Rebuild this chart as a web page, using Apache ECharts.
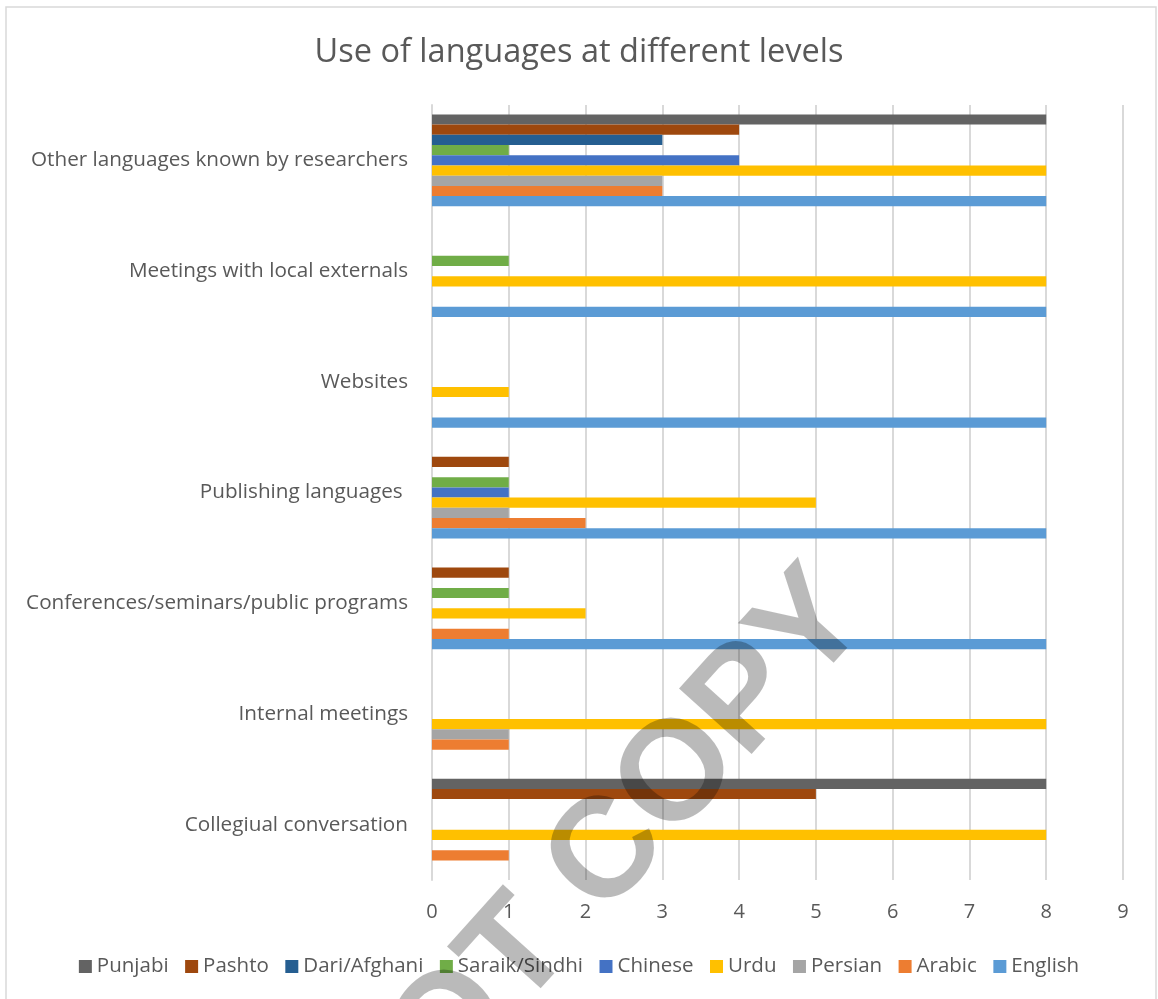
<!DOCTYPE html>
<html>
<head>
<meta charset="utf-8">
<script src="https://cdn.jsdelivr.net/npm/echarts@6/dist/echarts.min.js"></script>
<style>
html,body{margin:0;padding:0;background:#fff;}
#chart{width:1158px;height:999px;}
</style>
</head>
<body>
<div id="chart"></div>
<script>
// Categories listed bottom-to-top (ECharts category y-axis starts at the bottom)
const categories = [
  'Collegiual conversation',
  'Internal meetings',
  'Conferences/seminars/public programs',
  'Publishing languages ',
  'Websites',
  'Meetings with local externals',
  'Other languages known by researchers'
];
const languages = ['Punjabi','Pashto','Dari/Afghani','Saraik/Sindhi','Chinese','Urdu','Persian','Arabic','English'];
const colors = ['#636363','#9e480e','#255e91','#70ad47','#4472c4','#ffc000','#a5a5a5','#ed7d31','#5b9bd5'];

const punjabi = [8,0,0,0,0,0,8];
const pashto  = [5,0,1,1,0,0,4];
const dari    = [0,0,0,0,0,0,3];
const saraik  = [0,0,1,1,0,1,1];
const chinese = [0,0,0,1,0,0,4];
const urdu    = [8,8,2,5,1,8,8];
const persian = [0,1,0,1,0,0,3];
const arabic  = [1,1,1,2,0,0,3];
const english = [0,0,8,8,8,8,8];
const seriesValues = [punjabi,pashto,dari,saraik,chinese,urdu,persian,arabic,english];

const xTicks = [0,1,2,3,4,5,6,7,8,9];

const FONT = 'Open Sans';
const chart = echarts.init(document.getElementById('chart'), null, {renderer:'canvas'});

const series = languages.map((name,i)=>({
  name: name,
  type: 'bar',
  data: seriesValues[i],
  itemStyle: {color: colors[i]},
  barGap: '0%',
  barCategoryGap: '17%',
  animation: false
}));

chart.setOption({
  animation: false,
  backgroundColor: '#ffffff',
  title: {
    text: 'Use of languages at different levels',
    left: 'center',
    top: 31,
    textStyle: {fontFamily: FONT, fontSize: 32.5, fontWeight: 'normal', color: '#595959'}
  },
  grid: {left: 432, right: 35, top: 105, bottom: 119, containLabel: false},
  legend: {
    data: languages,
    bottom: 17,
    left: 'center',
    icon: 'rect',
    itemWidth: 13,
    itemHeight: 13,
    itemGap: 16.5,
    textStyle: {fontFamily: FONT, fontSize: 20.5, color: '#595959'}
  },
  xAxis: {
    type: 'value',
    min: xTicks[0],
    max: xTicks[xTicks.length-1],
    interval: 1,
    axisLine: {show: false},
    axisTick: {show: false},
    splitLine: {show: true, lineStyle: {color: '#d9d9d9', width: 2}},
    axisLabel: {fontFamily: FONT, fontSize: 20, color: '#595959', margin: 22}
  },
  yAxis: {
    type: 'category',
    data: categories,
    axisLine: {show: true, lineStyle: {color: '#d9d9d9', width: 2}},
    axisTick: {show: false},
    axisLabel: {fontFamily: FONT, fontSize: 20.7, color: '#595959', margin: 24}
  },
  series: series,
  graphic: [
    {
      type: 'rect',
      shape: {x: 6, y: 7, width: 1150, height: 1000},
      style: {fill: 'none', stroke: '#d9d9d9', lineWidth: 1.5},
      silent: true,
      z: 0
    },
    {
      type: 'text',
      x: 843, y: 594,
      rotation: 48 * Math.PI / 180,
      style: {
        text: 'NOT COPY',
        font: 'bold 142px "Liberation Sans", Arial, sans-serif',
        fill: 'rgba(0,0,0,0.27)',
        align: 'right',
        verticalAlign: 'middle'
      },
      silent: true,
      z: 100
    }
  ]
});
</script>
</body>
</html>
